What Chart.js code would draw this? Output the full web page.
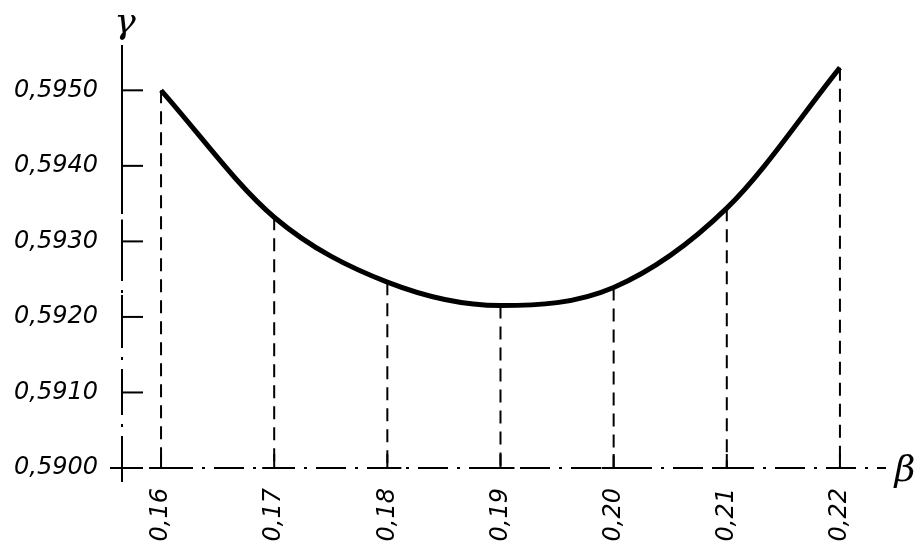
<!DOCTYPE html>
<html>
<head>
<meta charset="utf-8">
<script src="https://cdn.jsdelivr.net/npm/chart.js@4.4.0/dist/chart.umd.min.js"></script>
<style>
  html, body { margin: 0; padding: 0; background: #fff; }
  #wrap { width: 920px; height: 545px; }
</style>
</head>
<body>
<div id="wrap"><canvas id="gammaChart"></canvas></div>
<script>
    // values
    const betaValues = [0.16, 0.17, 0.18, 0.19, 0.20, 0.21, 0.22];
    const gammaValues = [0.5950, 0.59332, 0.59246, 0.59215, 0.59239, 0.59344, 0.59530];
    const betaTicks = [0.16, 0.17, 0.18, 0.19, 0.20, 0.21, 0.22];
    const gammaTicks = [0.5900, 0.5910, 0.5920, 0.5930, 0.5940, 0.5950];

    const labelFont = { family: "DejaVu Sans", style: "italic", size: 24 };

    // dashed drop lines, dash-dot axes, tick marks, axis letters
    const drawingPlugin = {
        id: 'drawing',
        beforeDatasetsDraw(chart) {
            const ctx = chart.ctx;
            const x = chart.scales.x;
            const y = chart.scales.y;
            const y0 = y.getPixelForValue(gammaTicks[0]);
            const meta = chart.getDatasetMeta(0);

            ctx.save();
            ctx.strokeStyle = '#000';

            // vertical dashed lines from the curve down to the axis
            ctx.lineWidth = 2;
            ctx.setLineDash([13, 8]);
            meta.data.forEach(pt => {
                ctx.beginPath();
                ctx.moveTo(pt.x, pt.y);
                ctx.lineTo(pt.x, y0);
                ctx.stroke();
            });

            // axes, dash-dot
            const left = chart.chartArea.left;
            ctx.lineWidth = 2;
            ctx.setLineDash([46, 9, 3, 9]);
            ctx.beginPath();
            ctx.moveTo(left, y0 + 14);
            ctx.lineTo(left, chart.chartArea.top);
            ctx.stroke();

            ctx.setLineDash([30, 9, 3, 9]);
            ctx.beginPath();
            ctx.moveTo(left - 10, y0);
            ctx.lineTo(chart.chartArea.right + 6, y0);
            ctx.stroke();

            // y tick marks
            ctx.setLineDash([]);
            gammaTicks.forEach((v, i) => {
                const py = y.getPixelForValue(v);
                ctx.beginPath();
                ctx.moveTo(i === 0 ? left - 12 : left, py);
                ctx.lineTo(left + 21, py);
                ctx.stroke();
                ctx.beginPath();
                ctx.moveTo(left, py - 22);
                ctx.lineTo(left, py + (i === 0 ? 12 : 22));
                ctx.stroke();
            });

            // x tick marks
            betaTicks.forEach(v => {
                const px = x.getPixelForValue(v);
                ctx.beginPath();
                ctx.moveTo(px - 12, y0);
                ctx.lineTo(px + 14, y0);
                ctx.moveTo(px, y0);
                ctx.lineTo(px, y0 - 14);
                ctx.stroke();
            });

            // axis letters
            ctx.fillStyle = '#000';
            ctx.font = 'italic 36px "DejaVu Serif"';
            ctx.textAlign = 'center';
            ctx.textBaseline = 'middle';
            ctx.fillText('γ', left + 3, 24);
            ctx.fillText('β', chart.chartArea.right + 25, y0 + 4);
            ctx.restore();
        }
    };

    const ctx = document.getElementById('gammaChart').getContext('2d');
    new Chart(ctx, {
        type: 'line',
        data: {
            datasets: [{
                data: betaValues.map((b, i) => ({ x: b, y: gammaValues[i] })),
                borderColor: '#000',
                borderWidth: 5,
                pointRadius: 0,
                cubicInterpolationMode: 'monotone',
                fill: false
            }]
        },
        options: {
            responsive: true,
            maintainAspectRatio: false,
            animation: false,
            layout: { padding: { top: 45, right: 40, left: 0, bottom: 0 } },
            plugins: { legend: { display: false }, tooltip: { enabled: false } },
            scales: {
                x: {
                    type: 'linear',
                    min: 0.15655,
                    max: 0.22354,
                    border: { display: false },
                    grid: { display: false },
                    afterBuildTicks: s => { s.ticks = betaTicks.map(v => ({ value: v })); },
                    afterFit: s => { s.height = 77; },
                    ticks: {
                        color: '#000',
                        font: labelFont,
                        minRotation: 90,
                        maxRotation: 90,
                        padding: 12,
                        callback: v => v.toFixed(2).replace('.', ',')
                    }
                },
                y: {
                    min: 0.5900,
                    max: 0.5956,
                    border: { display: false },
                    grid: { display: false },
                    afterBuildTicks: s => { s.ticks = gammaTicks.map(v => ({ value: v })); },
                    afterFit: s => { s.width = 122; },
                    ticks: {
                        color: '#000',
                        font: labelFont,
                        padding: 16,
                        callback: v => v.toFixed(4).replace('.', ',')
                    }
                }
            }
        },
        plugins: [drawingPlugin]
    });
</script>
</body>
</html>
